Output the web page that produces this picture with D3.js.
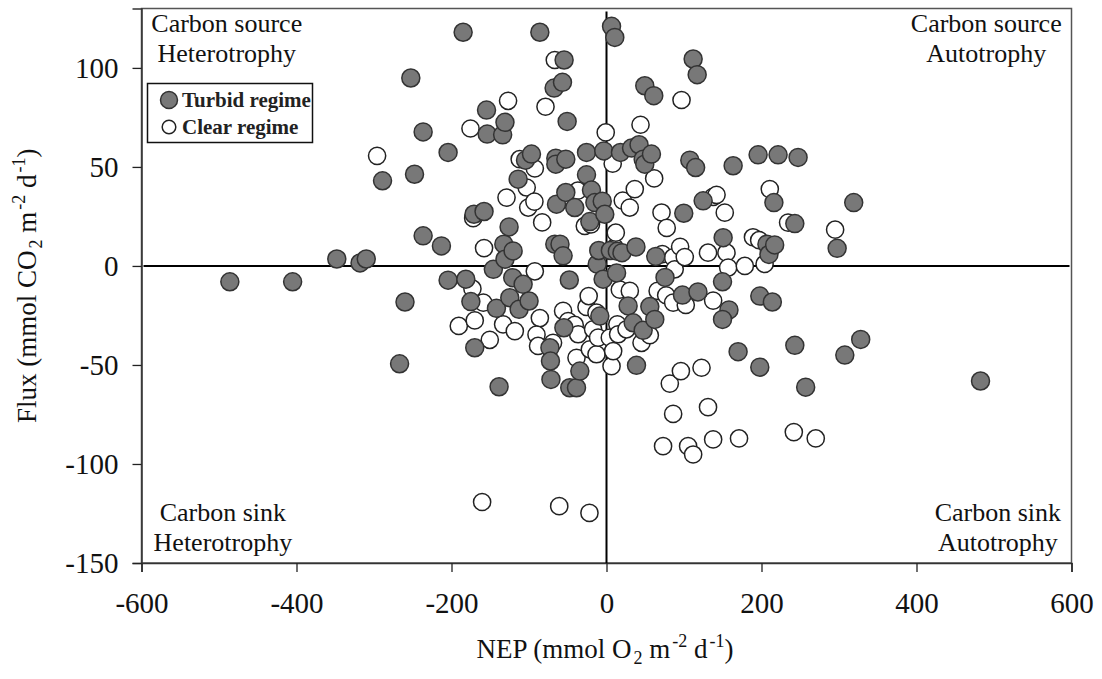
<!DOCTYPE html>
<html>
<head>
<meta charset="utf-8">
<script src="https://cdn.jsdelivr.net/npm/d3@7"></script>
<style>
  body { margin: 0; background: #fff; }
  svg { display: block; font-family: "Liberation Serif", "Times New Roman", serif; }
</style>
</head>
<body>
<svg id="chart" width="1102" height="679"></svg>
<script>
// NEP vs CO2 flux, two regimes
const xTicks = [-600, -400, -200, 0, 200, 400, 600];
const yTicks = [-150, -100, -50, 0, 50, 100];

const quadrantLabels = [
  { lines: ["Carbon source", "Heterotrophy"], x: -490, y: [118, 103] },
  { lines: ["Carbon source", "Autotrophy"], x: 490, y: [118, 103] },
  { lines: ["Carbon sink", "Heterotrophy"], x: -495, y: [-129, -144] },
  { lines: ["Carbon sink", "Autotrophy"], x: 505, y: [-129, -144] }
];

// [NEP, Flux]
const turbid = [
  [-486, -8], [-405, -8], [-348, 3.5], [-318, 1.5], [-310, 3.5], [-267, -49.4], [-260, -18.2],
  [-289, 43], [-252.5, 94.9], [-247.7, 46.3], [-236.6, 67.7], [-236.6, 15.2], [-213, 10.1],
  [-204.4, 57.3], [-204.4, -7.2], [-185, 118], [-181.5, -6.7], [-175, -18], [-171, 26.1],
  [-158, 27.5], [-170, -41.3], [-154.8, 78.7], [-154, 66.6], [-146, -1.7], [-142, -21.4],
  [-138.6, -61], [-134, 66.2], [-132.5, 11], [-131, 72.5], [-131, 3.4], [-125.7, 19.7],
  [-124.8, -16], [-121, -5.9], [-120.5, 7.6], [-114, 43.8], [-112.8, -21.9], [-107.6, -9.3],
  [-104.5, 53.4], [-99.9, -17.7], [-96.8, 56.5], [-86, 118], [-73, -41.3], [-72.3, -48],
  [-71.7, -57.3], [-67.6, 89.8], [-66.7, 11], [-65.4, 54.4], [-65.4, 51.4], [-64.5, 31.2],
  [-60, 11], [-56.8, 92.7], [-56, 5.1], [-54.7, 104], [-52.5, 53.9], [-52.5, 37.1], [-50.8, 73],
  [-55, -31.2], [-48, -7.1], [-47.4, -61.5], [-41, 29.5], [-38.7, -61.5], [-34.4, -53.1],
  [-25.8, 57.3], [-25.8, 46], [-21.5, 22.4], [-19.4, 38.3], [-15, 32], [-5.5, 32.7],
  [-12, 0.9], [-10, 7.8], [-8.6, -25.3], [-4.4, -6.7], [-3.5, 58.1], [-2.2, 26.1], [6.5, 121],
  [10.7, 115.4], [5, 7.8], [13, -3.5], [14, 7.4], [20, 6.7], [18, 57.3], [27.9, -20.2],
  [32.3, 59.5], [34.4, -28.7], [38, 9.6], [38.7, -50.2], [42, 61.2], [47.3, 53.9], [49.4, 51.4],
  [47.3, -32.5], [49.4, 91], [55.9, -20.5], [58, 56.5], [61, 86], [62.3, -27], [63.6, 4.8],
  [75.5, -5.8], [98, -14.7], [99.7, 26.6], [107.5, 53.4], [111.8, 104.5], [115, 49.7],
  [117, 96.6], [118, -13.1], [124.7, 32.9], [149.7, -8], [150.5, 14.3], [158, -22.2],
  [149.7, -27], [163.4, 50.6], [169.8, -43.3], [195.6, 56.1], [197.8, -15.2], [197.8, -51.1],
  [207, 11], [209.6, 5.8], [214, -18.2], [216, 32], [217, 10.6], [221.4, 56.1], [243, 21.4],
  [243, -40.1], [247.2, 54.8], [257, -61.2], [297.6, 8.9], [307.5, -45], [319, 32],
  [328, -37.1], [482.6, -58.1]
];

const clear = [
  [-296, 55.6], [-190.6, -30.3], [-175.5, 69.4], [-173, -11.5], [-172, 24.1], [-170, -27.5],
  [-159, -18.5], [-158, 9], [-150.6, -37.3], [-133.4, -29.5], [-129, 34.5], [-127, 83.4],
  [-118.3, -32.9], [-112, 53.9], [-103, 39.6], [-101, 29.5], [-93, 32.5], [-92.5, 49.2],
  [-92.5, -2.7], [-86, -26.3], [-90.3, -34.7], [-88.3, -40.4], [-83, 22], [-78.7, 80.4],
  [-69, -38.8], [-66.7, 104], [-56, -22.7], [-49.5, -27.8], [-41, -29.8], [-37, 38],
  [-36.6, -34.5], [-38.7, -46.4], [-28, 20.2], [-25.8, -20.7], [-23, -15.2], [-21.5, -42.1],
  [-17.3, -32], [-12.9, -23.6], [-12.9, -44.6], [-20, 21], [-10.8, -36.2], [-1, 67.4],
  [4.3, -36.2], [6.5, -50.6], [8.6, -43], [8, 51.6], [10.7, 9.3], [12, 16.8], [14, -29.5],
  [15, -34.5], [17.2, -12], [21, 33], [30, 29.5], [30.1, -12.6], [25.8, -32], [36.5, 38.8],
  [43.9, 71.3], [45.2, -38.8], [55.9, -35], [61.5, 44.2], [66, -12.6], [71, 27], [72, 6],
  [86, 4.3], [73, -91], [77, -14.8], [77.7, 19.2], [81.7, -59.4], [86, -74.7], [86, -18.5],
  [88, -1.7], [95, 9.7], [96, -53.1], [96.8, 83.8], [101, 4.5], [102.3, -19.7], [105.3, -91],
  [111.8, -95.2], [122.6, -51.4], [131, 6.7], [131, -71.3], [137.6, 34.9], [142, 35.9],
  [137.6, -17.5], [137.6, -87.6], [152.6, 26.9], [154.8, 6.7], [157, -0.8], [171, -87.1],
  [178.5, 0], [189, 14.5], [197, 13], [204, 1], [210.7, 38.8], [234.3, 21.9], [241.7, -83.9],
  [270, -87.1], [295, 18.3], [-160.5, -119.2], [-61, -121.3], [-22, -124.7]
];

const svg = d3.select("#chart");
const plotLeft = 141.5, plotRight = 1071.5, plotTop = 8.5, plotBottom = 563;

const x = d3.scaleLinear().domain([-600, 600]).range([plotLeft, plotRight]);
const y = d3.scaleLinear().domain([-150, 130]).range([plotBottom, plotTop]);

// plain hyphen for negatives, like the spreadsheet labels
const fmt = d => String(d);

// frame
svg.append("rect")
  .attr("x", plotLeft).attr("y", plotTop)
  .attr("width", plotRight - plotLeft).attr("height", plotBottom - plotTop)
  .attr("fill", "none").attr("stroke", "#555").attr("stroke-width", 1.5);

// axes
const xAxis = svg.append("g")
  .attr("transform", `translate(0,${plotBottom})`)
  .call(d3.axisBottom(x).tickValues(xTicks).tickSize(9).tickFormat(fmt));
const yAxis = svg.append("g")
  .attr("transform", `translate(${plotLeft},0)`)
  .call(d3.axisLeft(y).tickValues(yTicks).tickSize(9).tickFormat(fmt));

[xAxis, yAxis].forEach(g => {
  g.select(".domain").attr("stroke", "#333").attr("stroke-width", 1.5);
  g.selectAll(".tick line").attr("stroke", "#222").attr("stroke-width", 1.3);
  g.selectAll(".tick text")
    .attr("font-family", "Liberation Serif, Times New Roman, serif")
    .attr("font-size", 29).attr("fill", "#111");
});
xAxis.selectAll(".tick text").attr("y", 29).attr("dy", "0.71em");
yAxis.selectAll(".tick text").attr("x", -23).attr("dy", "0.34em");

// zero lines
svg.append("line")
  .attr("x1", plotLeft + 2).attr("x2", plotRight - 2)
  .attr("y1", y(0)).attr("y2", y(0))
  .attr("stroke", "#000").attr("stroke-width", 2);
svg.append("line")
  .attr("x1", x(0)).attr("x2", x(0))
  .attr("y1", plotTop + 3).attr("y2", plotBottom)
  .attr("stroke", "#000").attr("stroke-width", 2);

// points: clear first, turbid drawn over them
svg.append("g").selectAll("circle").data(clear).join("circle")
  .attr("cx", d => x(d[0])).attr("cy", d => y(d[1])).attr("r", 8.6)
  .attr("fill", "#fff").attr("stroke", "#222").attr("stroke-width", 1.5);

svg.append("g").selectAll("circle").data(turbid).join("circle")
  .attr("cx", d => x(d[0])).attr("cy", d => y(d[1])).attr("r", 9)
  .attr("fill", "#787878").attr("stroke", "#333").attr("stroke-width", 1.5);

// quadrant labels
quadrantLabels.forEach(q => {
  q.lines.forEach((t, i) => {
    svg.append("text")
      .attr("x", x(q.x)).attr("y", y(q.y[i]))
      .attr("text-anchor", "middle")
      .attr("font-size", 26).attr("fill", "#111")
      .text(t);
  });
});

// legend
const legend = svg.append("g");
legend.append("rect")
  .attr("x", 147.5).attr("y", 83.5).attr("width", 165).attr("height", 59)
  .attr("fill", "#fff").attr("stroke", "#111").attr("stroke-width", 1.5);
legend.append("circle").attr("cx", 169).attr("cy", 100).attr("r", 8.5)
  .attr("fill", "#787878").attr("stroke", "#333").attr("stroke-width", 1.5);
legend.append("circle").attr("cx", 169).attr("cy", 127).attr("r", 6.8)
  .attr("fill", "#fff").attr("stroke", "#222").attr("stroke-width", 1.5);
legend.append("text").attr("x", 182).attr("y", 107)
  .attr("font-size", 21).attr("font-weight", "bold").attr("fill", "#222").text("Turbid regime");
legend.append("text").attr("x", 182).attr("y", 134)
  .attr("font-size", 21).attr("font-weight", "bold").attr("fill", "#222").text("Clear regime");

// axis titles with sub/superscripts
function title(sel, parts) {
  parts.forEach(p => {
    const t = sel.append("tspan").text(p.t);
    if (p.sub) t.attr("font-size", 18).attr("dy", 6).attr("dx", 2);
    if (p.sup) t.attr("font-size", 18).attr("dy", -11).attr("dx", 2);
    if (p.back) t.attr("dy", p.back);
  });
}

const xTitle = svg.append("text")
  .attr("x", 605).attr("y", 658)
  .attr("text-anchor", "middle").attr("font-size", 27).attr("fill", "#111");
title(xTitle, [
  { t: "NEP (mmol O" }, { t: "2", sub: true }, { t: " m", back: -6 },
  { t: "-2", sup: true }, { t: " d", back: 11 }, { t: "-1", sup: true }, { t: ")", back: 11 }
]);

const yTitle = svg.append("text")
  .attr("transform", `translate(36,${(plotTop + plotBottom) / 2}) rotate(-90)`)
  .attr("text-anchor", "middle").attr("font-size", 27).attr("fill", "#111");
title(yTitle, [
  { t: "Flux (mmol CO" }, { t: "2", sub: true }, { t: " m", back: -6 },
  { t: "-2", sup: true }, { t: " d", back: 11 }, { t: "-1", sup: true }, { t: ")", back: 11 }
]);
</script>
</body>
</html>
